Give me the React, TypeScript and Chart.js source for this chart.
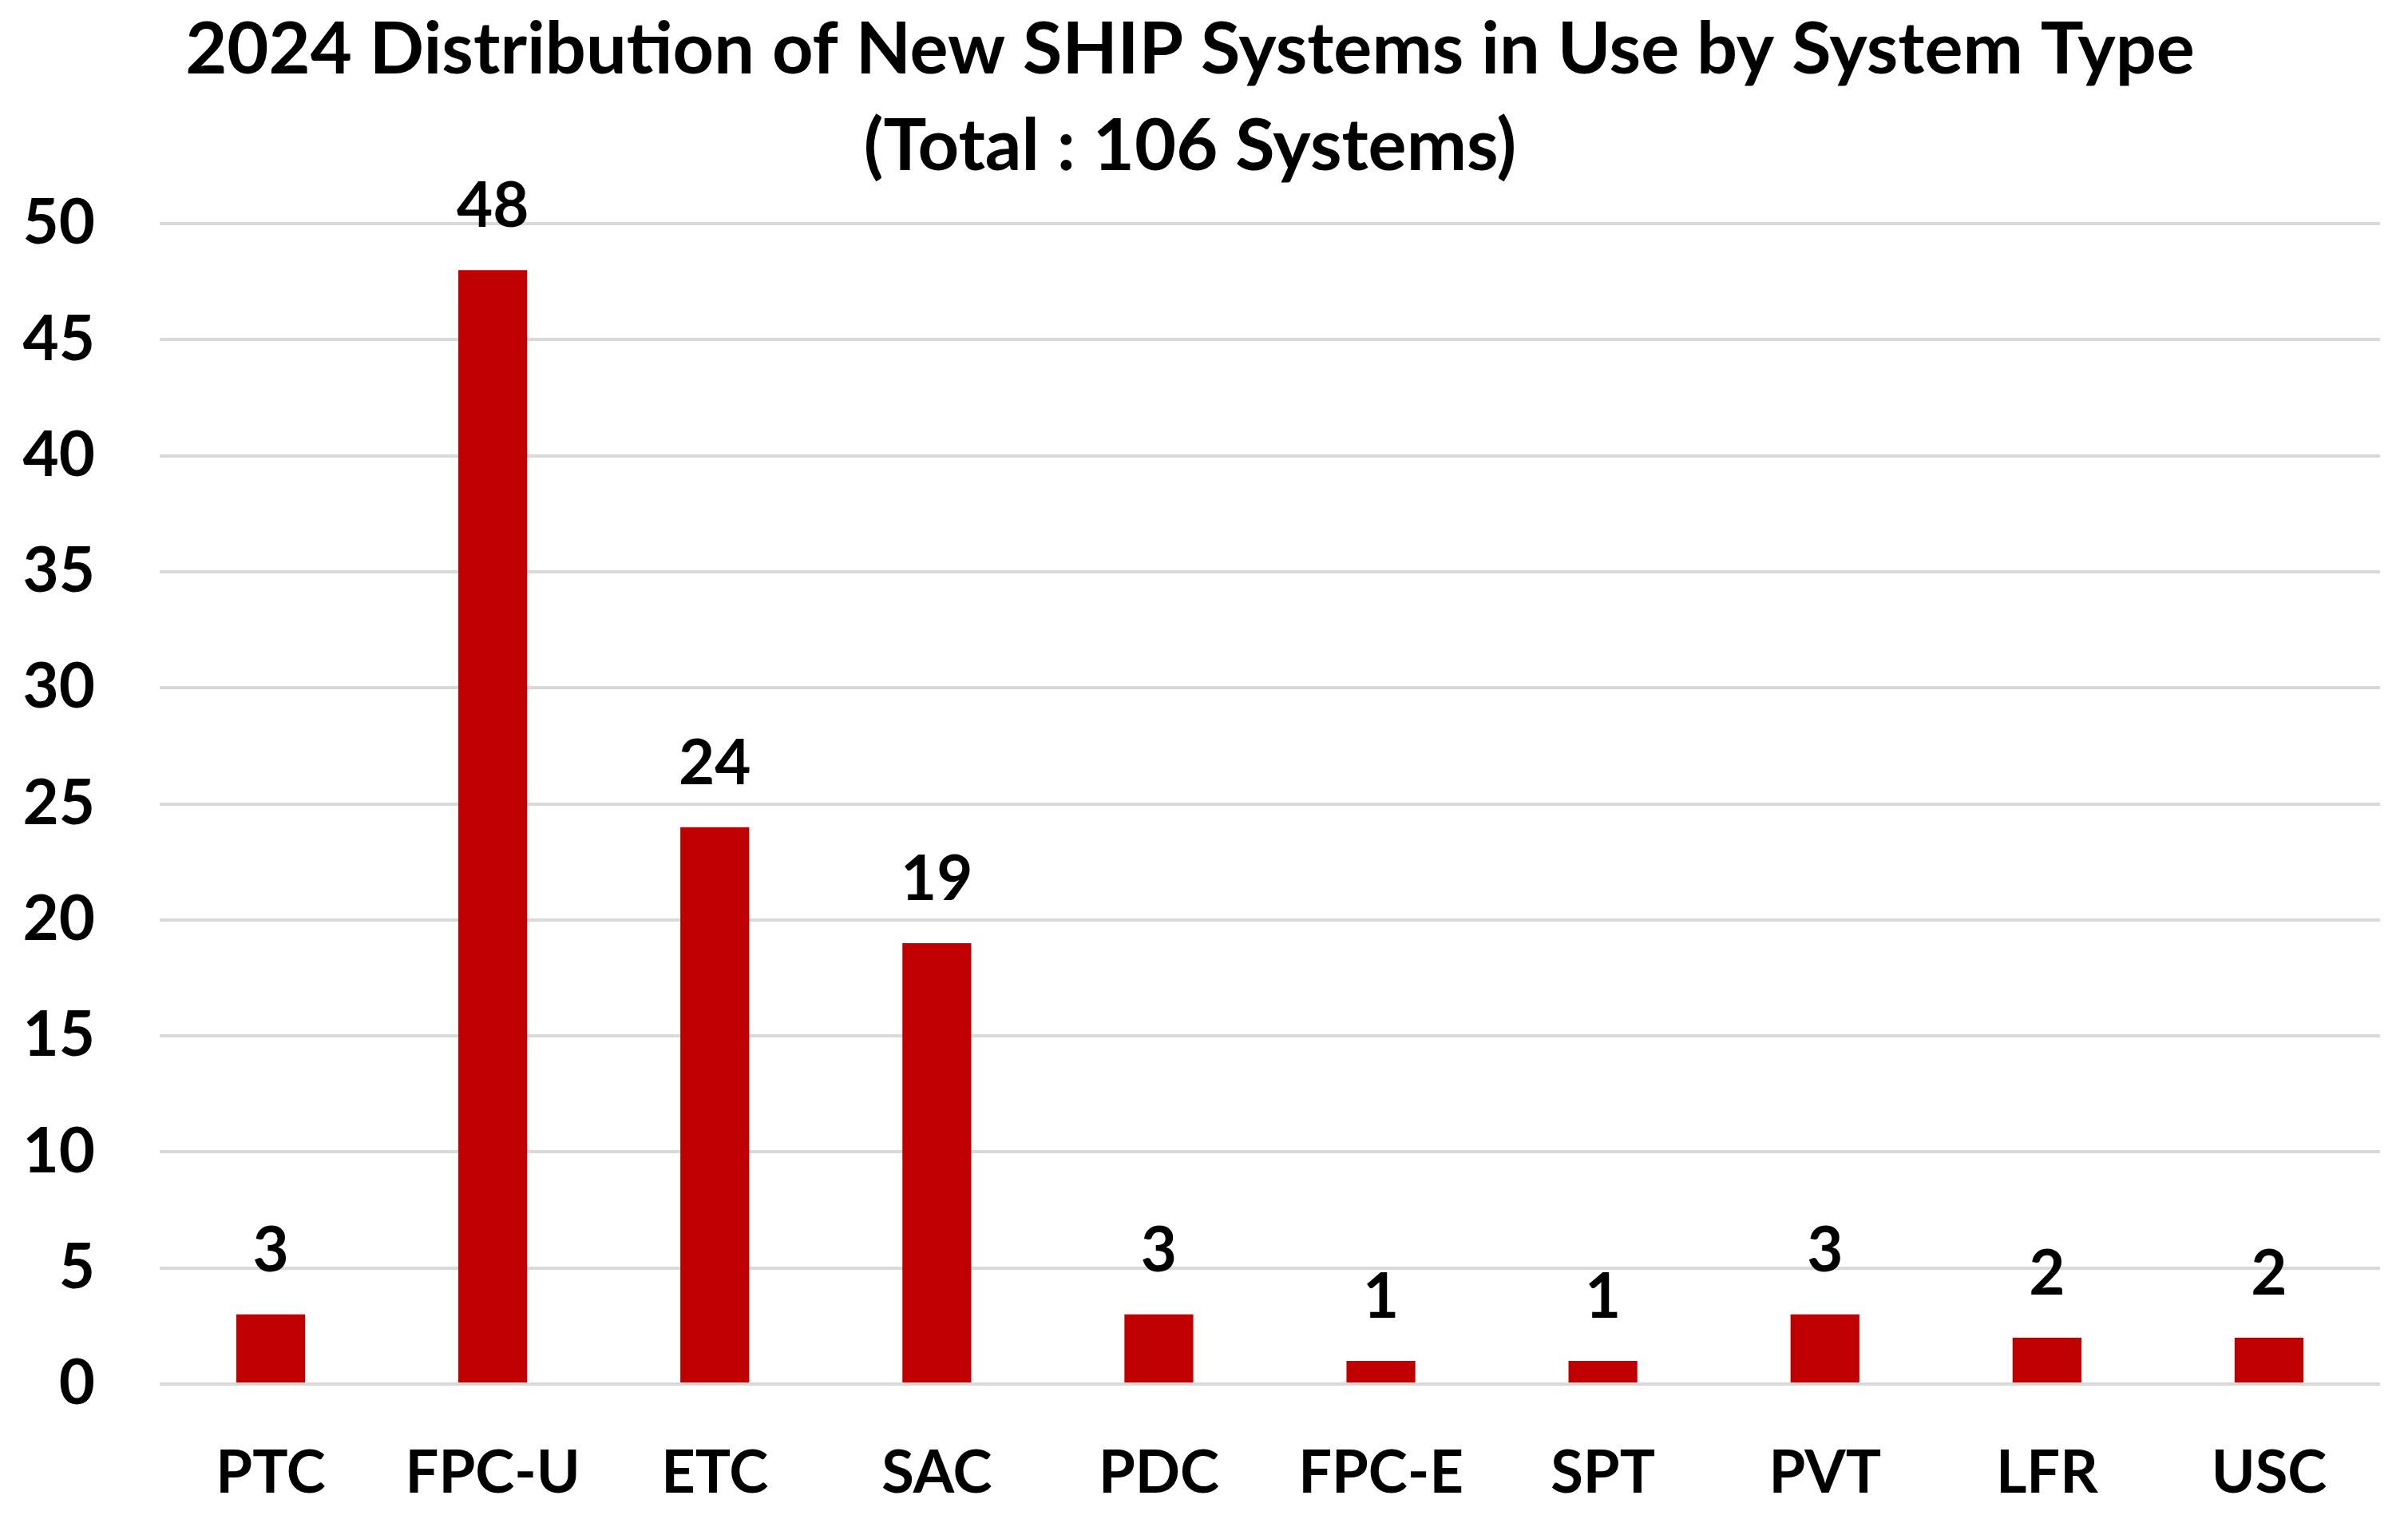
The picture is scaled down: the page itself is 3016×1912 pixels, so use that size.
import React, { useEffect, useRef } from "react";
import { Chart, registerables } from "chart.js";

Chart.register(...registerables);

const categories = ["PTC", "FPC-U", "ETC", "SAC", "PDC", "FPC-E", "SPT", "PVT", "LFR", "USC"];
const systems = [3, 48, 24, 19, 3, 1, 1, 3, 2, 2];
const titleLines = ["2024 Distribution of New SHIP Systems in Use by System Type", "(Total : 106 Systems)"];
const yMax = 50;
const yStep = 5;

const FONT = "Lato, 'Open Sans', sans-serif";

const valueLabels = {
  id: "valueLabels",
  afterDatasetsDraw(chart: any) {
    const ctx = chart.ctx;
    const meta = chart.getDatasetMeta(0);
    ctx.save();
    ctx.font = `bold 78px ${FONT}`;
    ctx.fillStyle = "#000000";
    ctx.textAlign = "center";
    ctx.textBaseline = "alphabetic";
    meta.data.forEach((bar: any, i: number) => {
      ctx.fillText(String(chart.data.datasets[0].data[i]), bar.x, bar.y - 54);
    });
    ctx.restore();
  },
};

export default function App() {
  const ref = useRef<HTMLCanvasElement | null>(null);
  useEffect(() => {
    document.body.style.margin = "0";
    const chart = new Chart(ref.current!, {
      type: "bar",
      data: {
        labels: categories,
        datasets: [
          {
            data: systems,
            backgroundColor: "#C00000",
            borderWidth: 0,
            barPercentage: 0.31,
            categoryPercentage: 1,
          },
        ],
      },
      options: {
        animation: false,
        responsive: false,
        devicePixelRatio: 1,
        layout: { padding: { left: 0, right: 35, top: 0, bottom: 0 } },
        plugins: {
          legend: { display: false },
          tooltip: { enabled: false },
          title: {
            display: true,
            text: titleLines,
            color: "#000000",
            font: { family: FONT, size: 90, weight: "bold", lineHeight: 1.34 },
            padding: { top: 3, bottom: 36 },
          },
        },
        scales: {
          x: {
            grid: { display: false, drawTicks: false },
            border: { display: false },
            ticks: {
              color: "#000000",
              font: { family: FONT, size: 74, weight: "bold" },
              padding: 68,
              maxRotation: 0,
              autoSkip: false,
            },
            afterFit(scale: any) {
              scale.height = 179;
            },
          },
          y: {
            min: 0,
            max: yMax,
            grid: { color: "#D9D9D9", lineWidth: 4, drawTicks: false },
            border: { display: false },
            ticks: {
              stepSize: yStep,
              color: "#000000",
              font: { family: FONT, size: 78, weight: "bold" },
              padding: 81,
            },
            afterFit(scale: any) {
              scale.width = 200;
            },
          },
        },
      },
      plugins: [valueLabels],
    });
    return () => chart.destroy();
  }, []);
  return (
    <div style={{ width: 3016, height: 1912, background: "#ffffff" }}>
      <canvas ref={ref} width={3016} height={1912} style={{ width: 3016, height: 1912, display: "block" }} />
    </div>
  );
}
